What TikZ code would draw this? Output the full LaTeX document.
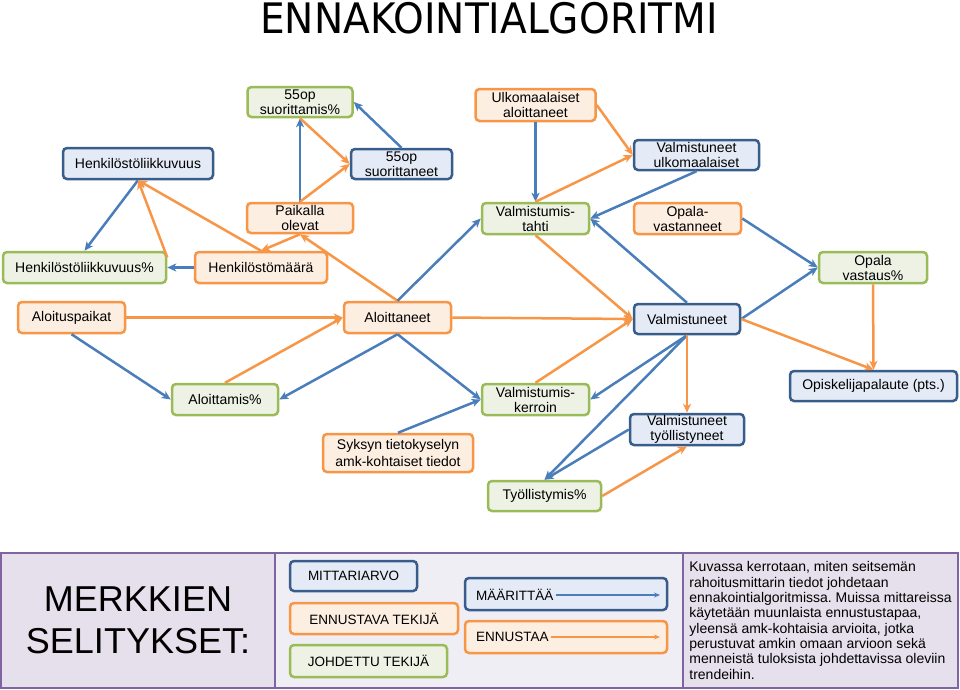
\documentclass[tikz,border=0pt]{standalone}
\usepackage{fontspec}
\setmainfont{Liberation Sans}
\newfontfamily\titlefont{DejaVu Sans}
\usetikzlibrary{arrows.meta}
\frenchspacing

\definecolor{mittaline}{RGB}{56,93,138}
\definecolor{mittafill}{RGB}{228,235,246}
\definecolor{ennline}{RGB}{247,150,70}
\definecolor{ennfill}{RGB}{253,238,226}
\definecolor{johdline}{RGB}{155,187,89}
\definecolor{johdfill}{RGB}{237,242,229}
\definecolor{arrblue}{RGB}{74,126,187}
\definecolor{arrorange}{RGB}{247,150,70}
\definecolor{legpurple}{RGB}{128,100,162}
\definecolor{legcell}{RGB}{229,224,236}
\definecolor{legpanel}{RGB}{240,238,245}

\begin{document}
\begin{tikzpicture}[
  x=1pt, y=-1pt,
  font=\fontsize{14}{15}\selectfont,
  box/.style={line width=2.5pt, rounded corners=4pt, align=center, inner sep=0pt, minimum width=107pt, minimum height=31pt},
  mitta/.style={box, draw=mittaline, fill=mittafill},
  ennustava/.style={box, draw=ennline, fill=ennfill},
  johdettu/.style={box, draw=johdline, fill=johdfill},
  maarittaa/.style={-{Stealth[length=9pt,width=8pt,inset=2.5pt]}, line width=2.5pt, draw=arrblue},
  ennustaa/.style={-{Stealth[length=9pt,width=8pt,inset=2.5pt]}, line width=2.5pt, draw=arrorange},
  legarrow/.style={-{Stealth[length=6pt,width=5pt]}, line width=1.5pt},
  cell/.style={draw=legpurple, line width=2.5pt, inner sep=0pt},
  legtext/.style={font=\fontsize{13.5}{15}\selectfont}
]
\useasboundingbox (0,0) rectangle (960,689);

\node[font=\titlefont\fontsize{42}{42}\selectfont, anchor=base, inner sep=0pt] (otsikko) at (489,33)
  {\scalebox{0.93}[1]{ENNAKOINTIALGORITMI}};

\node[johdettu, minimum width=105pt, minimum height=30pt] (suorpros) at (300,102) {55op\\suorittamis\%};
\node[mitta, minimum width=150pt] (liikk) at (138,163.5) {Henkilöstöliikkuvuus};
\node[mitta, minimum width=101pt, minimum height=30pt] (suor) at (401.5,164) {55op\\suorittaneet};
\node[ennustava, minimum width=106pt, minimum height=30pt] (paikalla) at (300,218) {Paikalla\\olevat};
\node[johdettu, minimum width=163pt] (liikkpros) at (84.5,267.5) {Henkilöstöliikkuvuus\%};
\node[ennustava, minimum width=132pt] (maara) at (261,267.5) {Henkilöstömäärä};

\node[ennustava, minimum width=120pt, minimum height=32pt] (ulkaloit) at (535.5,105) {Ulkomaalaiset\\aloittaneet};
\node[mitta, minimum width=125pt, minimum height=30pt] (valmulk) at (696.5,155) {Valmistuneet\\ulkomaalaiset};
\node[johdettu] (tahti) at (535.5,218.5) {Valmistumis-\\tahti};
\node[ennustava] (opalav) at (687.5,218.5) {Opala-\\vastanneet};
\node[johdettu, minimum width=108pt] (opalapros) at (873,267.5) {Opala\\vastaus\%};

\node[ennustava] (paikat) at (71.5,317.5) {Aloituspaikat};
\node[ennustava] (aloitt) at (397.5,317.5) {Aloittaneet};
\node[mitta, minimum width=106pt, minimum height=30pt] (valm) at (687,319) {Valmistuneet};

\node[johdettu, minimum width=106pt] (aloitpros) at (225,399.5) {Aloittamis\%};
\node[johdettu] (kerroin) at (535.5,399.5) {Valmistumis-\\kerroin};
\node[mitta, minimum width=167pt, minimum height=30pt] (palaute) at (873.5,386) {Opiskelijapalaute (pts.)};
\node[mitta, minimum width=114pt] (vtyol) at (687,429.5) {Valmistuneet\\työllistyneet};
\node[ennustava, minimum width=150pt, minimum height=38pt, font=\fontsize{14}{17}\selectfont] (syksy) at (398,453)
  {Syksyn tietokyselyn\\amk-kohtaiset tiedot};
\node[johdettu, minimum width=113pt, minimum height=30pt] (tyolpros) at (544.5,496) {Työllistymis\%};

\draw[maarittaa] (paikalla.north) -- (suorpros.south);
\draw[ennustaa] (suorpros.south) -- (suor.west);
\draw[ennustaa] (paikalla.north) -- (suor.west);
\draw[maarittaa] (suor.north) -- (suorpros.east);
\draw[maarittaa] (liikk.south) -- (liikkpros.north);
\draw[ennustaa] (liikkpros.7) -- (liikk.south);
\draw[ennustaa] (maara.north) -- (liikk.south);
\draw[ennustaa] (paikalla.south) -- (maara.north);
\draw[maarittaa] (maara.west) -- (liikkpros.east);
\draw[ennustaa] (aloitt.north) -- (paikalla.south);
\draw[maarittaa] (aloitt.north) -- (tahti.west);

\draw[maarittaa] (ulkaloit.south) -- (tahti.north);
\draw[ennustaa] (ulkaloit.east) -- (valmulk.west);
\draw[ennustaa] (tahti.north) -- (valmulk.west);
\draw[maarittaa] (valmulk.south) -- (tahti.east);
\draw[ennustaa] (tahti.south) -- (valm.west);
\draw[maarittaa] (valm.north) -- (tahti.east);
\draw[maarittaa] (opalav.east) -- (opalapros.west);
\draw[maarittaa] (valm.east) -- (opalapros.west);
\draw[ennustaa] (opalapros.south) -- (palaute.north);
\draw[ennustaa] (valm.east) -- (palaute.north);

\draw[ennustaa] (paikat.east) -- (aloitt.west);
\draw[maarittaa] (paikat.south) -- (aloitpros.west);
\draw[ennustaa] (aloitpros.north) -- (aloitt.west);
\draw[maarittaa] (aloitt.south) -- (aloitpros.east);
\draw[maarittaa] (aloitt.south) -- (kerroin.west);
\draw[ennustaa] (aloitt.east) -- (valm.west);
\draw[maarittaa] (syksy.north) -- (kerroin.west);
\draw[ennustaa] (kerroin.north) -- (valm.west);
\draw[maarittaa] (valm.south) -- (kerroin.east);
\draw[maarittaa] (valm.south) -- (tyolpros.north);
\draw[ennustaa] (valm.south) -- (vtyol.north);
\draw[maarittaa] (vtyol.west) -- (tyolpros.north);
\draw[ennustaa] (tyolpros.east) -- (vtyol.south);

\node[cell, fill=legpanel, minimum width=408pt, minimum height=135pt] (paneeli) at (479,620.5) {};
\node[cell, fill=legcell, minimum width=274pt, minimum height=135pt, align=center,
  font=\fontsize{36}{42}\selectfont] (selit) at (138,620.5) {MERKKIEN\\SELITYKSET:};
\node[cell, fill=legcell, minimum width=275pt, minimum height=135pt, align=left,
  font=\fontsize{14}{15.3}\selectfont] (kuvaus) at (820.5,620.5)
  {Kuvassa kerrotaan, miten seitsemän\\rahoitusmittarin tiedot johdetaan\\ennakointialgoritmissa. Muissa mittareissa\\käytetään muunlaista ennustustapaa,\\yleensä amk-kohtaisia arvioita, jotka\\perustuvat amkin omaan arvioon sekä\\menneistä tuloksista johdettavissa oleviin\\trendeihin.};

\node[mitta, legtext, minimum width=127pt, minimum height=30pt] (legmitta) at (353.5,576) {MITTARIARVO};
\node[ennustava, legtext, minimum width=168pt] (legennus) at (374,618.5) {ENNUSTAVA TEKIJÄ};
\node[johdettu, legtext, minimum width=157pt, minimum height=32pt] (legjohd) at (368.5,661) {JOHDETTU TEKIJÄ};

\node[mitta, minimum width=202pt, minimum height=32pt] (legmaar) at (566,594) {};
\node[legtext, anchor=west, inner xsep=2pt, inner ysep=0pt] (maartxt) at (474,595) {MÄÄRITTÄÄ};
\coordinate (maarkarki) at (660,595);
\draw[legarrow, draw=arrblue] (maartxt.east) -- (maarkarki);

\node[ennustava, minimum width=202pt, minimum height=32pt] (legenn) at (566,637) {};
\node[legtext, anchor=west, inner xsep=2pt, inner ysep=0pt] (enntxt) at (474,637) {ENNUSTAA};
\coordinate (ennkarki) at (660,637);
\draw[legarrow, draw=arrorange] (enntxt.east) -- (ennkarki);

\end{tikzpicture}
\end{document}
